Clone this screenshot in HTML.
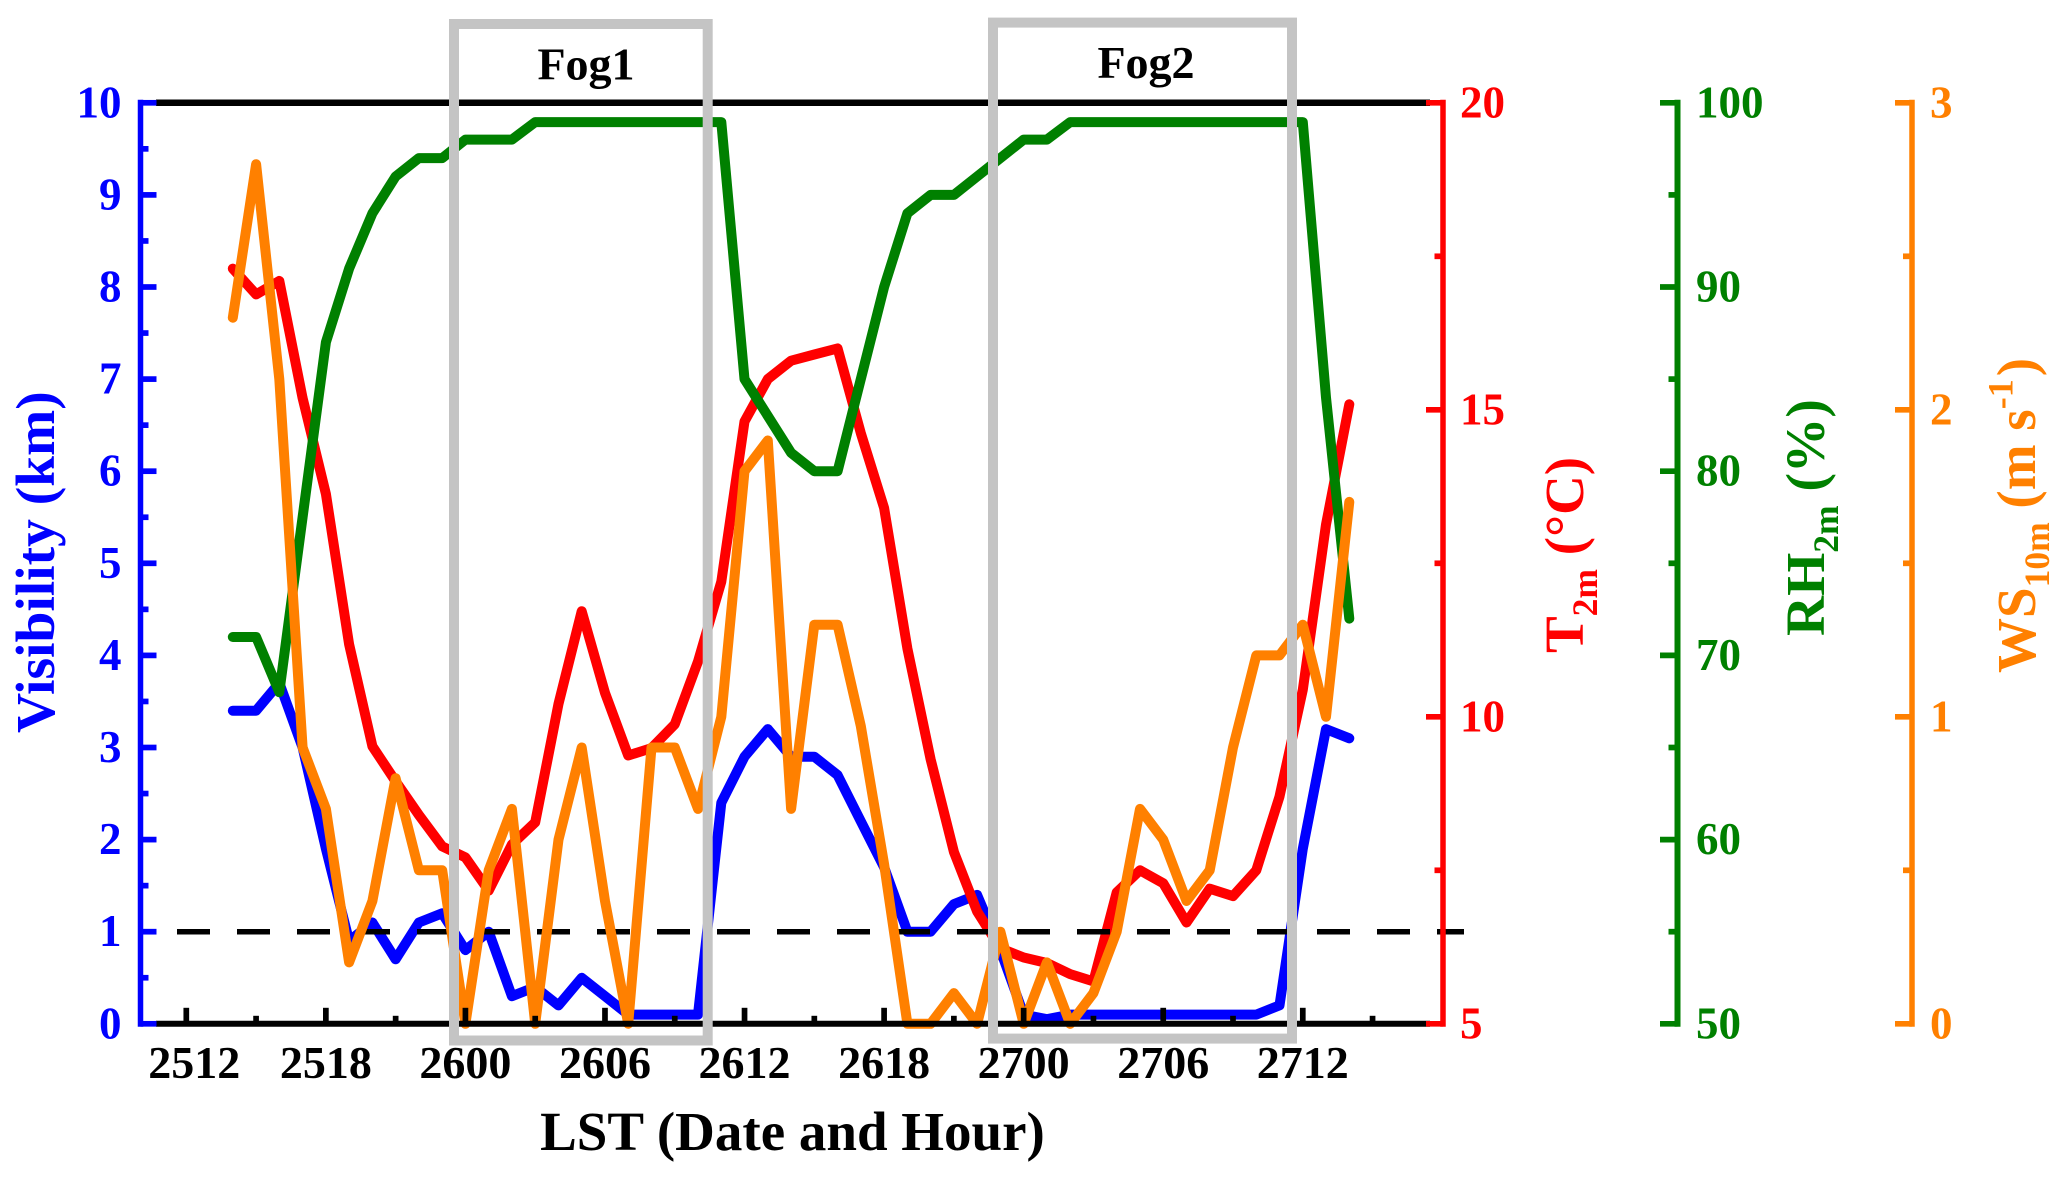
<!DOCTYPE html>
<html lang="en">
<head>
<meta charset="utf-8">
<title>Visibility, temperature, humidity and wind during fog events</title>
<style>
  html, body { margin: 0; padding: 0; background: #ffffff; }
  svg { display: block; }
  text { font-family: "Liberation Serif", serif; font-weight: bold; }
</style>
</head>
<body>
<svg id="chart" xmlns="http://www.w3.org/2000/svg" width="2067" height="1180" viewBox="0 0 2067 1180">
  <rect x="0" y="0" width="2067" height="1180" fill="#ffffff"/>
  <g id="frame"></g>
  <g id="series"></g>
  <g id="axes"></g>
  <g id="boxes">
    <rect x="454" y="24" width="253.7" height="1016.5" fill="none" stroke="#c4c4c4" stroke-width="10"/>
    <rect x="993" y="22.6" width="299" height="1016" fill="none" stroke="#c4c4c4" stroke-width="10"/>
  </g>
  <text x="586" y="79.5" font-size="46" text-anchor="middle" fill="#000000">Fog1</text>
  <text x="1146" y="78" font-size="46" text-anchor="middle" fill="#000000">Fog2</text>
  <text x="792.5" y="1150" font-size="55" text-anchor="middle" fill="#000000">LST (Date and Hour)</text>
  <text transform="translate(54 733) rotate(-90)" font-size="55.5" fill="#0000ff">Visibility (km)</text>
  <text transform="translate(1583 653) rotate(-90)" font-size="55" fill="#ff0000">T<tspan font-size="35.5" dy="14">2m</tspan><tspan dy="-14"> (°C)</tspan></text>
  <text transform="translate(1824 636) rotate(-90)" font-size="55.5" fill="#008000">RH<tspan font-size="35.5" dy="14">2m</tspan><tspan dy="-14"> (%)</tspan></text>
  <text transform="translate(2035 673) rotate(-90)" font-size="55" fill="#ff8000">WS<tspan font-size="35.5" dy="14">10m</tspan><tspan dy="-14"> (m s</tspan><tspan font-size="36" dy="-22.7">-1</tspan><tspan dx="3" dy="22.7">)</tspan></text>
</svg>
<script>
// Categories: hours after the first labelled tick (2512 = 0)
const hours = [2,3,4,5,6,7,8,9,10,11,12,13,14,15,16,17,18,19,20,21,22,23,24,25,26,27,28,29,30,31,32,33,34,35,36,37,38,39,40,41,42,43,44,45,46,47,48,49,50];

// Series values
const visibility = [3.4,3.4,3.7,3.0,1.9,0.9,1.1,0.7,1.1,1.2,0.8,1.0,0.3,0.4,0.2,0.5,0.3,0.1,0.1,0.1,0.1,2.4,2.9,3.2,2.9,2.9,2.7,2.2,1.7,1.0,1.0,1.3,1.4,0.8,0.1,0.05,0.1,0.1,0.1,0.1,0.1,0.1,0.1,0.1,0.1,0.2,1.9,3.2,3.1];
const temperature = [17.3,16.88,17.1,15.19,13.63,11.18,9.52,8.95,8.4,7.89,7.71,7.17,7.92,8.28,10.21,11.72,10.39,9.37,9.49,9.88,10.9,12.2,14.81,15.5,15.8,15.9,16,14.62,13.4,11.11,9.31,7.8,6.83,6.23,6.08,5.99,5.81,5.69,7.14,7.5,7.29,6.65,7.2,7.08,7.5,8.7,10.44,13.13,15.09];
const humidity = [71,71,68,77.5,87,91,94,96,97,97,98,98,98,98.95,98.95,98.95,98.95,98.95,98.95,98.95,98.95,98.95,85,83,81,80,80,85,90,94,95,95,96,97,98,98,98.95,98.95,98.95,98.95,98.95,98.95,98.95,98.95,98.95,98.95,98.95,84,72];
const windSpeed = [2.3,2.8,2.1,0.9,0.7,0.2,0.4,0.8,0.5,0.5,0,0.5,0.7,0,0.6,0.9,0.4,0,0.9,0.9,0.7,1,1.8,1.9,0.7,1.3,1.3,0.97,0.52,0,0,0.1,0,0.3,0,0.2,0,0.1,0.3,0.7,0.6,0.4,0.5,0.9,1.2,1.2,1.3,1,1.7];
const visibilityThreshold = 1;

// Tick labels and values
const xTickLabels = ['2512','2518','2600','2606','2612','2618','2700','2706','2712'];
const xTickHours = [0,6,12,18,24,30,36,42,48];
const xMinorHours = [3,9,15,21,27,33,39,45,51];
const visTicks = [0,1,2,3,4,5,6,7,8,9,10];
const visMinor = [0.5,1.5,2.5,3.5,4.5,5.5,6.5,7.5,8.5,9.5];
const tempTicks = [5,10,15,20];
const tempMinor = [7.5,12.5,17.5];
const rhTicks = [50,60,70,80,90,100];
const rhMinor = [55,65,75,85,95];
const windTicks = [0,1,2,3];
const windMinor = [0.5,1.5,2.5];

// Axis functions
const plotTop = 102.8, plotBottom = 1023.8;
function xScale(h) { return 186.3 + 23.26 * h; }
function linear(min, max) {
  return function (v) { return plotBottom - (v - min) / (max - min) * (plotBottom - plotTop); };
}
const yVis = linear(0, 10);
const yTemp = linear(5, 20);
const yRh = linear(50, 100);
const yWind = linear(0, 3);

const NS = 'http://www.w3.org/2000/svg';
const seriesLayer = document.getElementById('series');
const axesLayer = document.getElementById('axes');

function seg(parent, x1, y1, x2, y2, color, width) {
  const el = document.createElementNS(NS, 'line');
  el.setAttribute('x1', x1);
  el.setAttribute('y1', y1);
  el.setAttribute('x2', x2);
  el.setAttribute('y2', y2);
  el.setAttribute('stroke', color);
  el.setAttribute('stroke-width', width);
  parent.appendChild(el);
  return el;
}
function label(parent, x, y, txt, color, anchor, size) {
  const el = document.createElementNS(NS, 'text');
  el.setAttribute('x', x);
  el.setAttribute('y', y);
  el.setAttribute('fill', color);
  el.setAttribute('text-anchor', anchor);
  el.setAttribute('font-size', size);
  el.textContent = txt;
  parent.appendChild(el);
  return el;
}

// Top and bottom frame lines
const topLine = seg(axesLayer, 156, plotTop, 1430, plotTop, '#000000', 6.5);


const bottomLine = seg(axesLayer, 156, plotBottom, 1430, plotBottom, '#000000', 6);



// X ticks and labels
xTickHours.forEach(function (h, i) {
  const t = seg(axesLayer, xScale(h), plotBottom, xScale(h), plotBottom - 16, '#000000', 5.7);
  
  
  const lab = label(axesLayer, xScale(h) + (i === 0 ? 8 : 0), 1078, xTickLabels[i], '#000000', 'middle', 46);
  
  
});
xMinorHours.forEach(function (h) {
  const t = seg(axesLayer, xScale(h), plotBottom, xScale(h), plotBottom - 8, '#000000', 5.7);
  
  
});

// Blue left axis
const visSpine = seg(axesLayer, 140.5, plotTop - 3, 140.5, plotBottom + 3, '#0000ff', 5.5);


visTicks.forEach(function (v) {
  const t = seg(axesLayer, 140.5, yVis(v), 156.5, yVis(v), '#0000ff', 5.7);
  
  
  const lab = label(axesLayer, 121.5, yVis(v) + 14.5, String(v), '#0000ff', 'end', 45);
  
  
});
visMinor.forEach(function (v) {
  const t = seg(axesLayer, 140.5, yVis(v), 148.5, yVis(v), '#0000ff', 5.7);
  
  
});

// Red temperature axis
const tempSpine = seg(axesLayer, 1443, plotTop - 3, 1443, plotBottom + 3, '#ff0000', 5.5);


tempTicks.forEach(function (v) {
  const t = seg(axesLayer, 1443, yTemp(v), 1426, yTemp(v), '#ff0000', 5.7);
  
  
  const lab = label(axesLayer, 1460, yTemp(v) + 14.5, String(v), '#ff0000', 'start', 45);
  
  
});
tempMinor.forEach(function (v) {
  const t = seg(axesLayer, 1443, yTemp(v), 1434.5, yTemp(v), '#ff0000', 5.7);
  
  
});

// Green humidity axis
const rhSpine = seg(axesLayer, 1677.5, plotTop - 3, 1677.5, plotBottom + 3, '#008000', 6);


rhTicks.forEach(function (v) {
  const t = seg(axesLayer, 1677.5, yRh(v), 1660, yRh(v), '#008000', 5.7);
  
  
  const lab = label(axesLayer, 1696, yRh(v) + 14.5, String(v), '#008000', 'start', 45);
  
  
});
rhMinor.forEach(function (v) {
  const t = seg(axesLayer, 1677.5, yRh(v), 1668.5, yRh(v), '#008000', 5.7);
  
  
});

// Orange wind axis
const windSpine = seg(axesLayer, 1912, plotTop - 3, 1912, plotBottom + 3, '#ff8000', 5.5);


windTicks.forEach(function (v) {
  const t = seg(axesLayer, 1912, yWind(v), 1895, yWind(v), '#ff8000', 5.7);
  
  
  const lab = label(axesLayer, 1930, yWind(v) + 14.5, String(v), '#ff8000', 'start', 45);
  
  
});
windMinor.forEach(function (v) {
  const t = seg(axesLayer, 1912, yWind(v), 1903, yWind(v), '#ff8000', 5.7);
  
  
});

// Series lines
function polyline(values, yFn, color) {
  const el = document.createElementNS(NS, 'polyline');
  el.setAttribute('points', values.map(function (v, i) {
    return xScale(hours[i]).toFixed(1) + ',' + yFn(v).toFixed(1);
  }).join(' '));
  el.setAttribute('fill', 'none');
  el.setAttribute('stroke', color);
  el.setAttribute('stroke-width', 10);
  el.setAttribute('stroke-linejoin', 'round');
  el.setAttribute('stroke-linecap', 'round');
  seriesLayer.appendChild(el);
  return el;
}
const visLine = polyline(visibility, yVis, '#0000ff');


const tempLine = polyline(temperature, yTemp, '#ff0000');


const rhLine = polyline(humidity, yRh, '#008000');



// Dashed one-kilometre visibility threshold
const threshold = seg(seriesLayer, 177, yVis(visibilityThreshold), 1464, yVis(visibilityThreshold), '#000000', 5.5);
threshold.setAttribute('stroke-dasharray', '33 27');



const windLine = polyline(windSpeed, yWind, '#ff8000');


</script>
</body>
</html>
